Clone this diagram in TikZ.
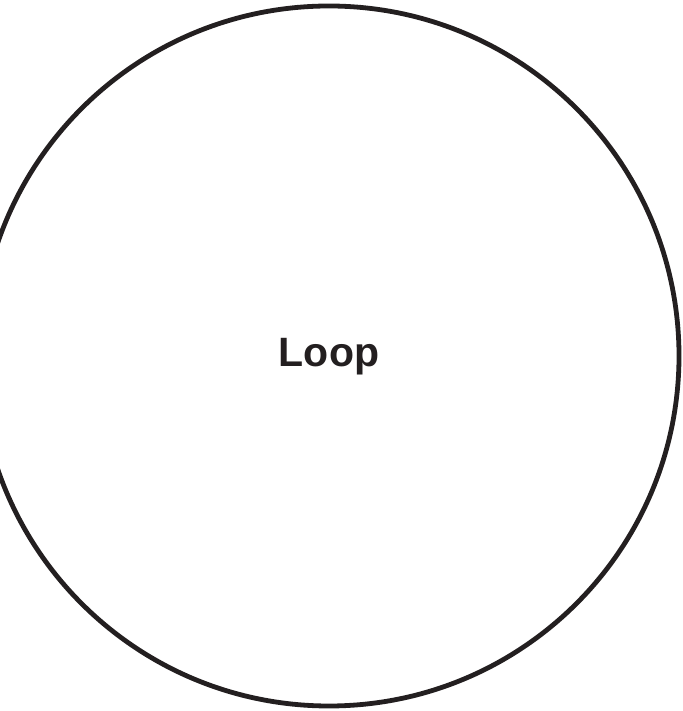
\documentclass[tikz,border=0pt]{standalone}
\usepackage{fontspec}
\setmainfont{Liberation Sans}
\definecolor{ink}{HTML}{231F20}
\begin{document}
\begin{tikzpicture}[x=1pt,y=1pt,
  loopcircle/.style={circle, draw=ink, line width=4.8pt, minimum size=700pt, inner sep=0pt},
  looplabel/.style={font=\fontsize{41}{48}\selectfont\bfseries, text=ink, inner sep=0pt, anchor=base}]
\useasboundingbox (0,0) rectangle (682,711);
\clip (0,0) rectangle (682,711);
\node[loopcircle] (loop) at (329,355) {};
\node[looplabel] (label) at (329,344) {Loop};
\end{tikzpicture}
\end{document}
